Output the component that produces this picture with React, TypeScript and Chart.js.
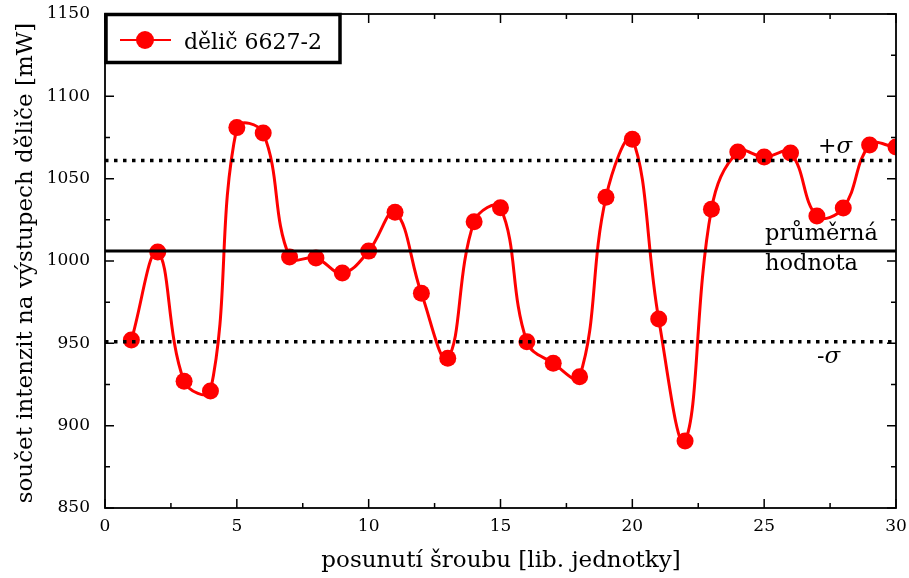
import React, { useEffect, useRef } from "react";
import { Chart, registerables } from "chart.js";

Chart.register(...registerables);

const positions = [1, 2, 3, 4, 5, 6, 7, 8, 9, 10, 11, 12, 13, 14, 15, 16, 17, 18, 19, 20, 21, 22, 23, 24, 25, 26, 27, 28, 29, 30];
const intensities = [952, 1005.5, 927, 921, 1081, 1077.7, 1002.4, 1001.8, 992.7, 1006, 1029.6, 980.4, 940.9, 1023.9, 1032.4, 951, 937.9, 929.7, 1038.7, 1073.9, 964.8, 890.7, 1031.4, 1066.2, 1063.2, 1065.6, 1027.3, 1032.2, 1070.4, 1069.2];
const meanValue = [1006];
const sigmaPlus = [1061];
const sigmaMinus = [951];
const xRange = [0, 30];
const yRange = [850, 1150];
const xStep = 5;
const yStep = 50;

const seriesLabel = "dělič 6627-2";
const xTitle = "posunutí šroubu [lib. jednotky]";
const yTitle = "součet intenzit na výstupech děliče [mW]";
const meanLabel = ["průměrná", "hodnota"];

const FONT = "'DejaVu Serif', 'Liberation Serif', serif";

const decor = {
  id: "decor",
  afterDraw(chart: any) {
    const ctx = chart.ctx;
    const a = chart.chartArea;
    const xs = chart.scales.x;
    const ys = chart.scales.y;
    ctx.save();
    ctx.strokeStyle = "#000";
    ctx.lineWidth = 1.5;
    const drawTicks = (scale: any, horizontal: boolean) => {
      const vals = scale.ticks.map((t: any) => t.value);
      const all: { v: number; major: boolean }[] = [];
      vals.forEach((v: number, i: number) => {
        all.push({ v, major: true });
        if (i < vals.length - 1) all.push({ v: (v + vals[i + 1]) / 2, major: false });
      });
      all.forEach(({ v, major }) => {
        const p = scale.getPixelForValue(v);
        const len = major ? 9 : 5;
        ctx.beginPath();
        if (horizontal) {
          ctx.moveTo(p, a.bottom);
          ctx.lineTo(p, a.bottom - len);
          ctx.moveTo(p, a.top);
          ctx.lineTo(p, a.top + len);
        } else {
          ctx.moveTo(a.left, p);
          ctx.lineTo(a.left + len, p);
          ctx.moveTo(a.right, p);
          ctx.lineTo(a.right - len, p);
        }
        ctx.stroke();
      });
    };
    drawTicks(xs, true);
    drawTicks(ys, false);
    ctx.lineWidth = 1.8;
    ctx.strokeRect(a.left, a.top, a.right - a.left, a.bottom - a.top);

    // legend box
    const lx = a.left, ly = a.top;
    ctx.fillStyle = "#fff";
    ctx.fillRect(lx, ly, 236, 49);
    ctx.lineWidth = 3.5;
    ctx.strokeRect(lx + 1, ly + 0.5, 234, 48);
    ctx.strokeStyle = "#ff0000";
    ctx.lineWidth = 2;
    ctx.beginPath();
    ctx.moveTo(lx + 15, ly + 26);
    ctx.lineTo(lx + 66, ly + 26);
    ctx.stroke();
    ctx.fillStyle = "#ff0000";
    ctx.beginPath();
    ctx.arc(lx + 40, ly + 26, 9, 0, Math.PI * 2);
    ctx.fill();
    ctx.fillStyle = "#000";
    ctx.font = `22px ${FONT}`;
    ctx.textBaseline = "alphabetic";
    ctx.textAlign = "left";
    ctx.fillText(chart.data.datasets[3].label, lx + 79, ly + 35);

    // annotations
    const yPlus = ys.getPixelForValue(sigmaPlus[0]);
    const yMinus = ys.getPixelForValue(sigmaMinus[0]);
    const yMean = ys.getPixelForValue(meanValue[0]);
    ctx.font = `22px ${FONT}`;
    const pw = ctx.measureText("+").width;
    ctx.fillText("+", 818, yPlus - 8);
    ctx.font = `italic 23px ${FONT}`;
    ctx.fillText("σ", 818 + pw, yPlus - 8);
    ctx.font = `22px ${FONT}`;
    const mw = ctx.measureText("-").width;
    ctx.fillText("-", 817, yMinus + 21);
    ctx.font = `italic 23px ${FONT}`;
    ctx.fillText("σ", 817 + mw, yMinus + 21);
    ctx.font = `22.5px ${FONT}`;
    ctx.fillText(meanLabel[0], 765, yMean - 11);
    ctx.fillText(meanLabel[1], 765, yMean + 19);

    // axis titles
    ctx.font = `23px ${FONT}`;
    ctx.textAlign = "center";
    ctx.fillText(xTitle, 501, 567);
    ctx.save();
    ctx.translate(32, (a.top + a.bottom) / 2 + 2);
    ctx.rotate(-Math.PI / 2);
    ctx.fillText(yTitle, 0, 0);
    ctx.restore();
    ctx.restore();
  },
};

export default function App() {
  const ref = useRef<HTMLCanvasElement>(null);
  useEffect(() => {
    if (!ref.current) return;
    const hLine = (v: number) => [
      { x: xRange[0], y: v },
      { x: xRange[1], y: v },
    ];
    const chart = new Chart(ref.current, {
      type: "line",
      data: {
        datasets: [
          {
            label: "+σ",
            data: hLine(sigmaPlus[0]),
            borderColor: "#000",
            borderWidth: 3.5,
            borderDash: [3.5, 5.5],
            pointRadius: 0,
            tension: 0,
          },
          {
            label: "-σ",
            data: hLine(sigmaMinus[0]),
            borderColor: "#000",
            borderWidth: 3.5,
            borderDash: [3.5, 5.5],
            pointRadius: 0,
            tension: 0,
          },
          {
            label: "mean",
            data: hLine(meanValue[0]),
            borderColor: "#000",
            borderWidth: 3,
            pointRadius: 0,
            tension: 0,
          },
          {
            label: seriesLabel,
            data: positions.map((x, i) => ({ x, y: intensities[i] })),
            borderColor: "#ff0000",
            backgroundColor: "#ff0000",
            borderWidth: 3,
            pointRadius: 8.5,
            pointBorderWidth: 0,
            tension: 0.4,
          },
        ],
      },
      options: {
        animation: false,
        responsive: false,
        maintainAspectRatio: false,
        layout: { padding: { top: 14, right: 13, left: 0, bottom: 0 } },
        plugins: { legend: { display: false }, tooltip: { enabled: false } },
        scales: {
          x: {
            type: "linear",
            min: xRange[0],
            max: xRange[1],
            grid: { display: false, drawTicks: false },
            border: { display: false },
            ticks: {
              stepSize: xStep,
              color: "#000",
              font: { family: FONT, size: 17 },
              padding: 8,
              maxRotation: 0,
              callback: (v: any) => String(v),
            },
            afterFit: (s: any) => {
              s.height = 70;
              s.paddingLeft = 0;
              s.paddingRight = 0;
            },
          },
          y: {
            type: "linear",
            min: yRange[0],
            max: yRange[1],
            grid: { display: false, drawTicks: false },
            border: { display: false },
            ticks: {
              stepSize: yStep,
              color: "#000",
              font: { family: FONT, size: 17 },
              padding: 15,
              callback: (v: any) => String(v),
            },
            afterFit: (s: any) => {
              s.width = 105;
              s.paddingTop = 0;
              s.paddingBottom = 0;
            },
          },
        },
      },
      plugins: [decor],
    });
    return () => chart.destroy();
  }, []);
  return (
    <div style={{ position: "fixed", left: 0, top: 0, width: 909, height: 578, background: "#fff" }}>
      <canvas ref={ref} width={909} height={578} style={{ width: 909, height: 578, display: "block" }} />
    </div>
  );
}
